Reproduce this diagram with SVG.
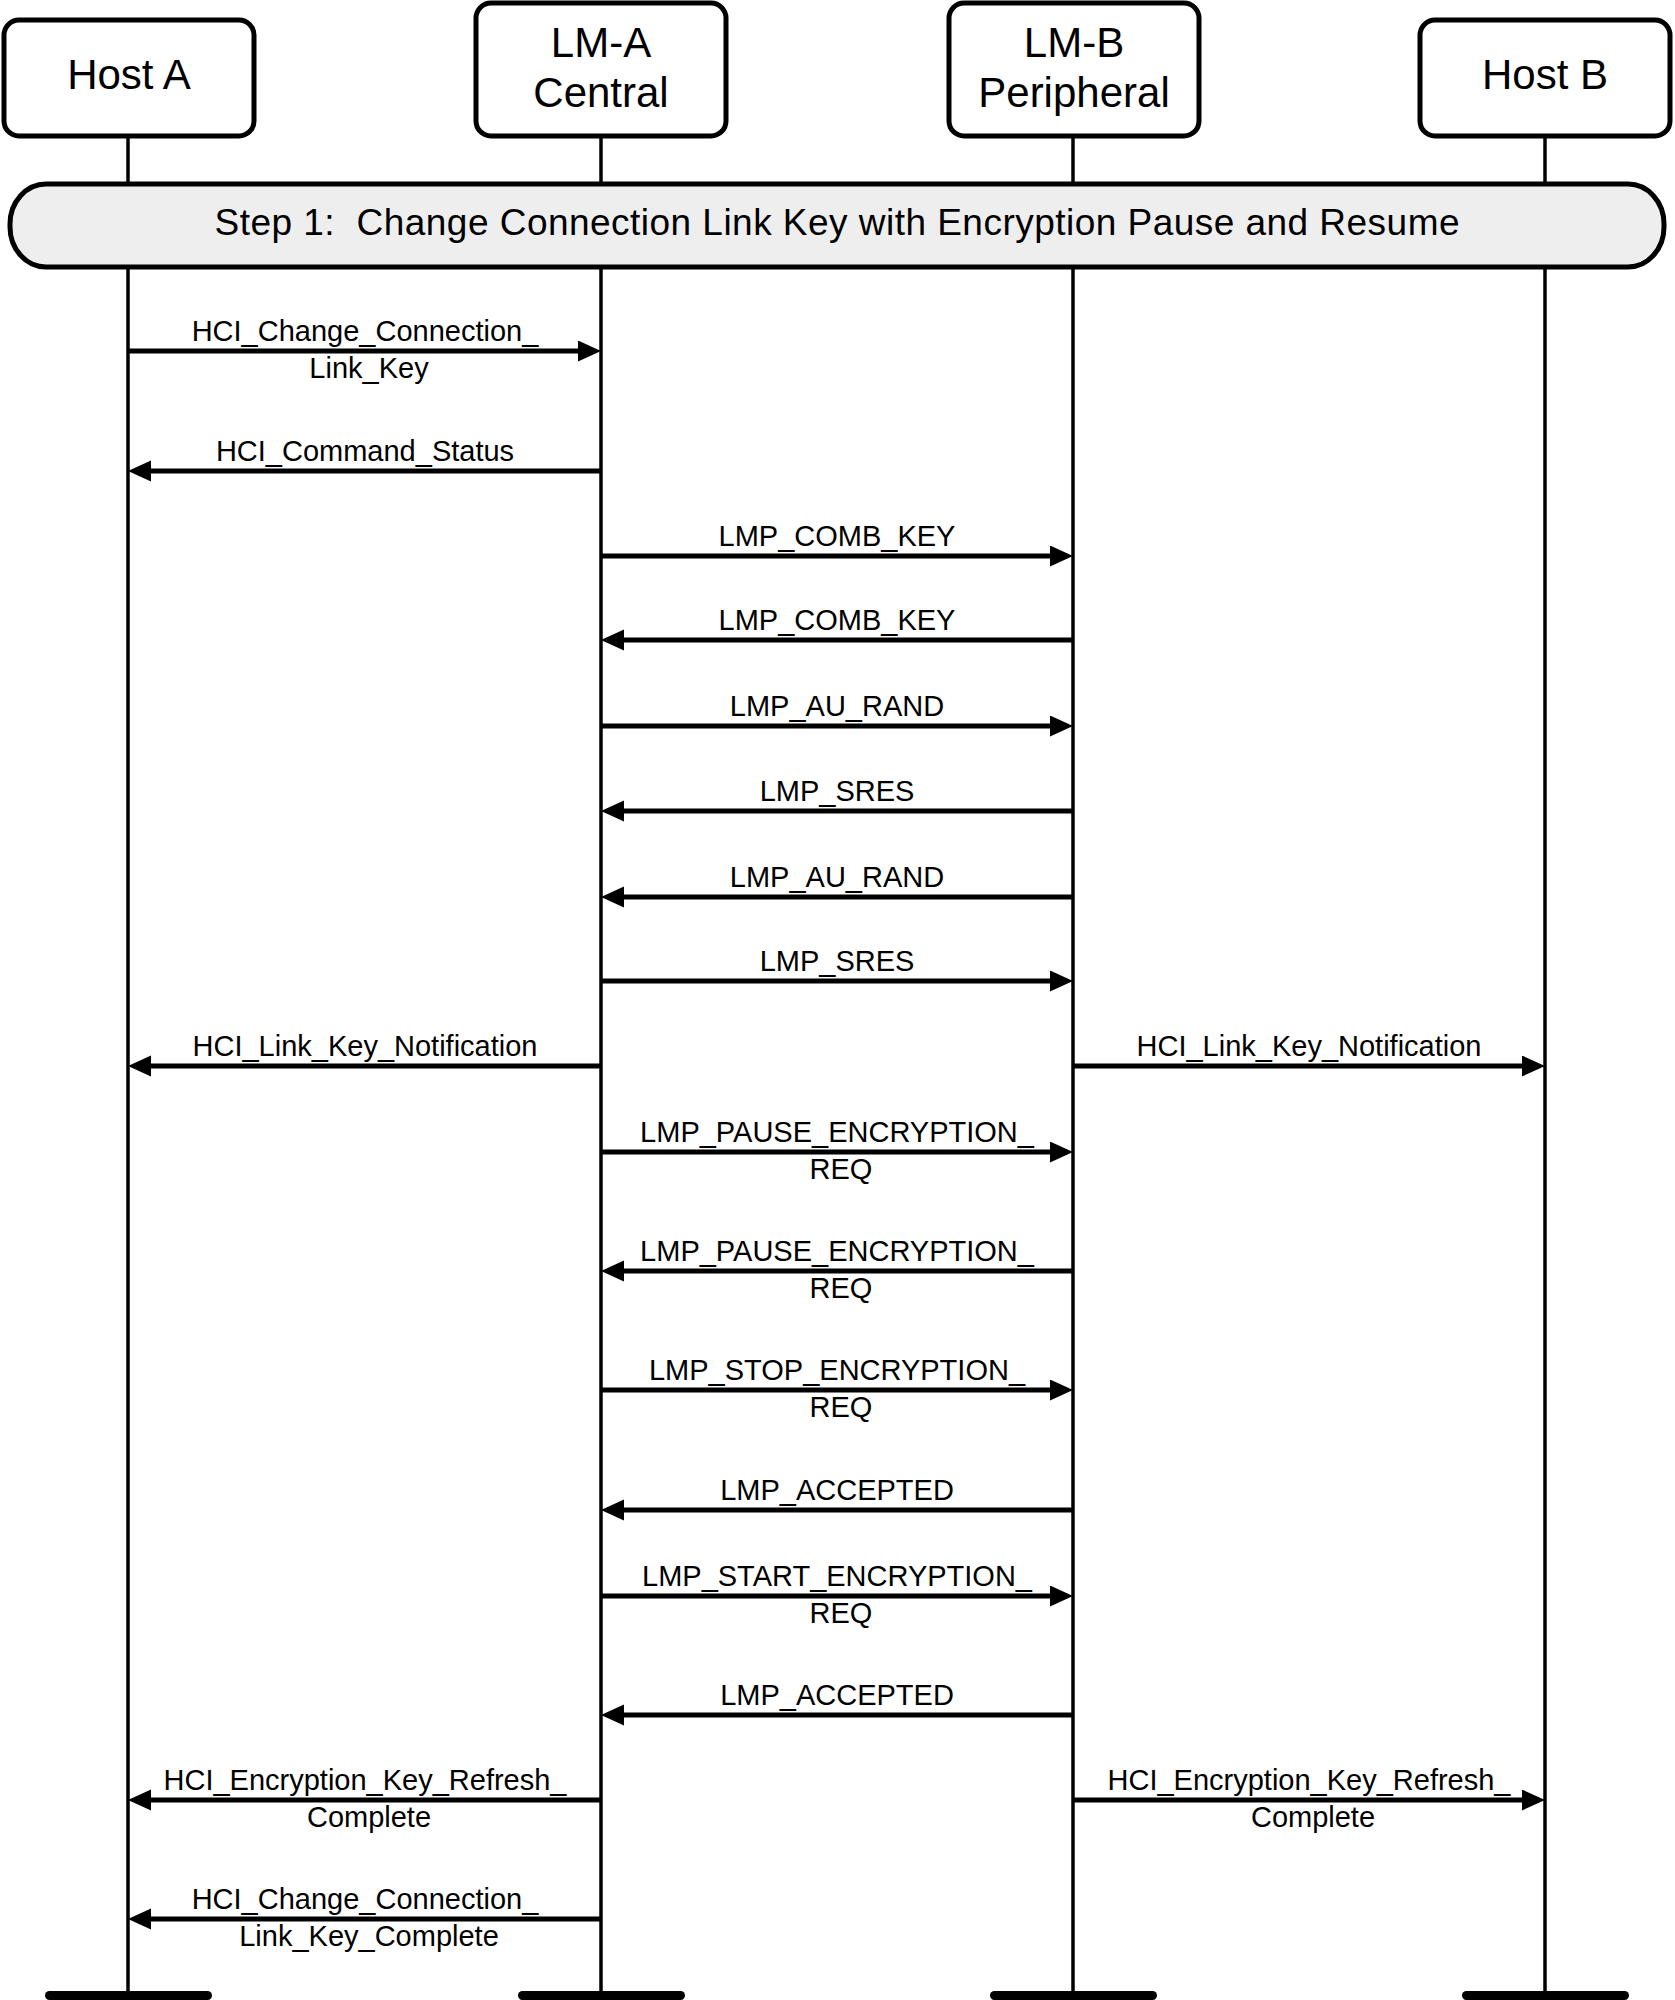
<svg xmlns="http://www.w3.org/2000/svg" width="1675" height="2000" viewBox="0 0 1675 2000">
<style>
text{font-family:"Liberation Sans",Arial,Helvetica,sans-serif;fill:#000}
.hdr{font-size:42px;text-anchor:middle}
.ban{font-size:37px;text-anchor:middle}
.msg{font-size:29px;text-anchor:middle}
.box{fill:#fff;stroke:#000;stroke-width:5}
.life{stroke:#000;stroke-width:3.5}
.arr{stroke:#000;stroke-width:5;fill:none;marker-end:url(#ah)}
.bar{fill:#000}
</style>
<defs>
<marker id="ah" markerUnits="userSpaceOnUse" markerWidth="24" markerHeight="22" refX="13" refY="10.5" orient="auto">
<path d="M0,0 L23,10.5 L0,21 Z" fill="#000"/>
</marker>
</defs>
<g id="lifelines">
<line class="life" x1="128" y1="137" x2="128" y2="1993"/>
<line class="life" x1="601" y1="137" x2="601" y2="1993"/>
<line class="life" x1="1073" y1="137" x2="1073" y2="1993"/>
<line class="life" x1="1545" y1="137" x2="1545" y2="1993"/>
</g>
<g id="hostA">
<rect class="box" x="4" y="20" width="250" height="116" rx="15"/>
<text class="hdr" x="129" y="89">Host A</text>
<rect class="bar" x="45" y="1991" width="167" height="9" rx="4.5"/>
</g>
<g id="lmA">
<rect class="box" x="476" y="3" width="250" height="133" rx="15"/>
<text class="hdr" x="601" y="57">LM-A</text>
<text class="hdr" x="601" y="107">Central</text>
<rect class="bar" x="518" y="1991" width="167" height="9" rx="4.5"/>
</g>
<g id="lmB">
<rect class="box" x="949" y="3" width="250" height="133" rx="15"/>
<text class="hdr" x="1074" y="57">LM-B</text>
<text class="hdr" x="1074" y="107">Peripheral</text>
<rect class="bar" x="990" y="1991" width="167" height="9" rx="4.5"/>
</g>
<g id="hostB">
<rect class="box" x="1420" y="20" width="250" height="116" rx="15"/>
<text class="hdr" x="1545" y="89">Host B</text>
<rect class="bar" x="1462" y="1991" width="167" height="9" rx="4.5"/>
</g>
<g id="step1">
<rect x="10" y="184" width="1654" height="83" rx="36" ry="40" fill="#eeeeee" stroke="#000" stroke-width="5"/>
<text class="ban" x="837" y="235" textLength="1245" lengthAdjust="spacing" xml:space="preserve">Step 1:  Change Connection Link Key with Encryption Pause and Resume</text>
</g>
<g id="connectors">
<line class="arr" x1="128" y1="351" x2="591" y2="351"/>
<line class="arr" x1="601" y1="471" x2="138" y2="471"/>
<line class="arr" x1="601" y1="556" x2="1063" y2="556"/>
<line class="arr" x1="1073" y1="640" x2="611" y2="640"/>
<line class="arr" x1="601" y1="726" x2="1063" y2="726"/>
<line class="arr" x1="1073" y1="811" x2="611" y2="811"/>
<line class="arr" x1="1073" y1="897" x2="611" y2="897"/>
<line class="arr" x1="601" y1="981" x2="1063" y2="981"/>
<line class="arr" x1="601" y1="1066" x2="138" y2="1066"/>
<line class="arr" x1="1073" y1="1066" x2="1535" y2="1066"/>
<line class="arr" x1="601" y1="1152" x2="1063" y2="1152"/>
<line class="arr" x1="1073" y1="1271" x2="611" y2="1271"/>
<line class="arr" x1="601" y1="1390" x2="1063" y2="1390"/>
<line class="arr" x1="1073" y1="1510" x2="611" y2="1510"/>
<line class="arr" x1="601" y1="1596" x2="1063" y2="1596"/>
<line class="arr" x1="1073" y1="1715" x2="611" y2="1715"/>
<line class="arr" x1="601" y1="1800" x2="138" y2="1800"/>
<line class="arr" x1="1073" y1="1800" x2="1535" y2="1800"/>
<line class="arr" x1="601" y1="1919" x2="138" y2="1919"/>
</g>
<g id="labels">
<text class="msg" x="365" y="341">HCI_Change_Connection_</text>
<text class="msg" x="369" y="378">Link_Key</text>
<text class="msg" x="365" y="461">HCI_Command_Status</text>
<text class="msg" x="837" y="546">LMP_COMB_KEY</text>
<text class="msg" x="837" y="630">LMP_COMB_KEY</text>
<text class="msg" x="837" y="716">LMP_AU_RAND</text>
<text class="msg" x="837" y="801">LMP_SRES</text>
<text class="msg" x="837" y="887">LMP_AU_RAND</text>
<text class="msg" x="837" y="971">LMP_SRES</text>
<text class="msg" x="365" y="1056">HCI_Link_Key_Notification</text>
<text class="msg" x="1309" y="1056">HCI_Link_Key_Notification</text>
<text class="msg" x="837" y="1142">LMP_PAUSE_ENCRYPTION_</text>
<text class="msg" x="841" y="1179">REQ</text>
<text class="msg" x="837" y="1261">LMP_PAUSE_ENCRYPTION_</text>
<text class="msg" x="841" y="1298">REQ</text>
<text class="msg" x="837" y="1380">LMP_STOP_ENCRYPTION_</text>
<text class="msg" x="841" y="1417">REQ</text>
<text class="msg" x="837" y="1500">LMP_ACCEPTED</text>
<text class="msg" x="837" y="1586">LMP_START_ENCRYPTION_</text>
<text class="msg" x="841" y="1623">REQ</text>
<text class="msg" x="837" y="1705">LMP_ACCEPTED</text>
<text class="msg" x="365" y="1790">HCI_Encryption_Key_Refresh_</text>
<text class="msg" x="369" y="1827">Complete</text>
<text class="msg" x="1309" y="1790">HCI_Encryption_Key_Refresh_</text>
<text class="msg" x="1313" y="1827">Complete</text>
<text class="msg" x="365" y="1909">HCI_Change_Connection_</text>
<text class="msg" x="369" y="1946">Link_Key_Complete</text>
</g>
</svg>
